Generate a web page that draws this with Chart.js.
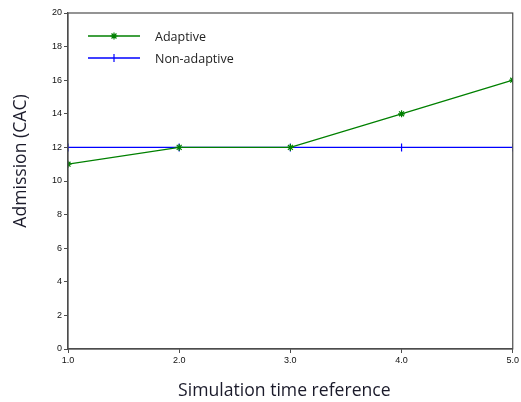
<!DOCTYPE html>
<html>
<head>
<meta charset="utf-8">
<script src="https://cdn.jsdelivr.net/npm/chart.js@4"></script>
<style>
  html, body { margin: 0; padding: 0; background: #fff; }
  #wrap { width: 521px; height: 402px; position: relative; }
</style>
</head>
<body>
<div id="wrap"><canvas id="chart"></canvas></div>
<script>
const timeRefs = [1, 2, 3, 4, 5];
const adaptive = [11, 12, 12, 14, 16];
const nonAdaptive = [12, 12, 12, 12, 12];
const seriesNames = ['Adaptive', 'Non-adaptive'];
const seriesColors = ['#008000', '#0000ff'];
const xTitle = 'Simulation time reference';
const yTitle = 'Admission (CAC)';

const pts = ys => timeRefs.map((x, i) => ({ x: x, y: ys[i] }));

// box around the plot area (top and right edges too)
const frame = {
  id: 'frame',
  afterDatasetsDraw(chart) {
    const a = chart.chartArea, c = chart.ctx;
    c.save();
    c.strokeStyle = '#4d4d4d';
    c.lineWidth = 1.2;
    c.strokeRect(a.left, a.top, a.right - a.left, a.bottom - a.top);
    c.restore();
  }
};

// axis titles, placed a little off-centre like the original
const axisTitles = {
  id: 'axisTitles',
  afterDraw(chart) {
    const c = chart.ctx, a = chart.chartArea;
    c.save();
    c.font = '17.6px "Open Sans", sans-serif';
    c.fillStyle = '#1a1a2a';
    c.textAlign = 'center';
    c.textBaseline = 'middle';
    c.fillText(xTitle, (a.left + a.right) / 2 - 6, chart.height - 11);
    c.translate(21, a.top + 148);
    c.rotate(-Math.PI / 2);
    c.fillText(yTitle, 0, 0);
    c.restore();
  }
};

// legend drawn inside the upper-left corner
const insideLegend = {
  id: 'insideLegend',
  afterDraw(chart) {
    const c = chart.ctx, a = chart.chartArea;
    c.save();
    c.font = '12.5px "Open Sans", sans-serif';
    c.textBaseline = 'middle';
    seriesNames.forEach((name, i) => {
      const ds = chart.data.datasets.find(d => d.label === name);
      const y = a.top + 23 + i * 22;
      const x0 = a.left + 20, x1 = a.left + 72;
      c.strokeStyle = seriesColors[i];
      c.fillStyle = seriesColors[i];
      c.lineWidth = 1.3;
      c.beginPath(); c.moveTo(x0, y); c.lineTo(x1, y); c.stroke();
      c.lineWidth = ds.pointBorderWidth;
      Chart.helpers.drawPoint(c, {
        pointStyle: ds.pointStyle,
        radius: ds.pointRadius,
        rotation: ds.pointRotation || 0,
        borderWidth: ds.pointBorderWidth
      }, (x0 + x1) / 2, y);
      c.fillStyle = '#222';
      c.fillText(name, a.left + 87, y + 1);
    });
    c.restore();
  }
};

new Chart(document.getElementById('chart'), {
  type: 'line',
  data: {
    datasets: [
      {
        label: seriesNames[1],
        data: pts(nonAdaptive),
        borderColor: seriesColors[1],
        backgroundColor: seriesColors[1],
        borderWidth: 1.4,
        pointStyle: 'line',
        pointRotation: 90,
        pointRadius: 4,
        pointBorderWidth: 1.2,
        order: 2
      },
      {
        label: seriesNames[0],
        data: pts(adaptive),
        borderColor: seriesColors[0],
        backgroundColor: seriesColors[0],
        borderWidth: 1.3,
        pointStyle: 'star',
        pointRadius: 3.5,
        pointBorderWidth: 1.2,
        order: 1
      }
    ]
  },
  options: {
    responsive: true,
    maintainAspectRatio: false,
    animation: false,
    layout: { padding: { top: 13, right: 6, left: 0, bottom: 0 } },
    plugins: { legend: { display: false }, tooltip: { enabled: false } },
    scales: {
      x: {
        type: 'linear', min: 1, max: 5,
        ticks: {
          stepSize: 1, color: '#111', padding: 2,
          font: { family: '"Liberation Sans", Arial, sans-serif', size: 9 },
          callback: v => Number(v).toFixed(1)
        },
        grid: { drawOnChartArea: false, drawTicks: true, tickLength: 4, color: '#4d4d4d' },
        border: { color: '#4d4d4d', width: 1.2 },
        afterFit(s) { s.height = 53; }
      },
      y: {
        min: 0, max: 20,
        ticks: {
          stepSize: 2, color: '#111', padding: 2,
          font: { family: '"Liberation Sans", Arial, sans-serif', size: 9 }
        },
        grid: { drawOnChartArea: false, drawTicks: true, tickLength: 4, color: '#4d4d4d' },
        border: { color: '#4d4d4d', width: 1.2 },
        afterFit(s) { s.width = 68; }
      }
    }
  },
  plugins: [frame, axisTitles, insideLegend]
});
</script>
</body>
</html>
